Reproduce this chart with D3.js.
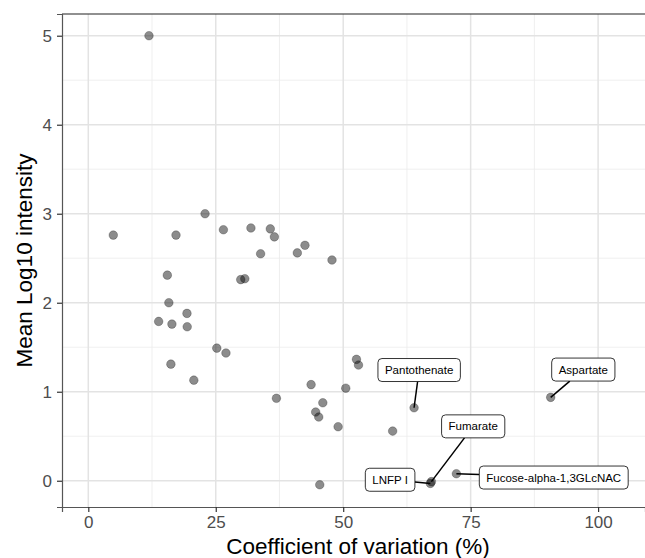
<!DOCTYPE html>
<html>
<head>
<meta charset="utf-8">
<script src="https://cdn.jsdelivr.net/npm/d3@7"></script>
<style>
  body { margin: 0; background: #fff; }
  svg { font-family: "Liberation Sans", Arial, sans-serif; }
</style>
</head>
<body>
<div id="chart"></div>
<script>
// coefficient of variation (%) and mean log10 intensity per metabolite
const cv = [11.9, 4.9, 22.9, 17.2, 15.5, 15.8, 26.5, 31.9, 35.7, 36.5,
  33.8, 41.0, 42.5, 47.8, 29.9, 30.7, 19.35, 13.8, 16.4, 19.4,
  25.2, 27.0, 16.2, 20.7, 52.6, 53.0, 43.7, 50.5, 46.0, 44.6,
  45.2, 49.0, 59.7, 45.4, 36.9, 63.9, 67.1, 67.3, 72.2, 90.7];
const meanLog = [5.0, 2.76, 3.0, 2.76, 2.31, 2.0, 2.82, 2.84, 2.83, 2.74,
  2.55, 2.56, 2.645, 2.48, 2.26, 2.27, 1.88, 1.79, 1.76, 1.73,
  1.49, 1.435, 1.31, 1.13, 1.364, 1.30, 1.08, 1.04, 0.876, 0.772,
  0.716, 0.607, 0.558, -0.045, 0.926, 0.82, -0.03, -0.01, 0.079, 0.937];

// labelled points: index into the arrays above, and label position (data units)
const labelNames = ["Pantothenate", "Aspartate", "Fumarate", "LNFP I", "Fucose-alpha-1,3GLcNAC"];
const labelIndex = [35, 39, 37, 36, 38];
const labelX = [64.9, 97.1, 75.5, 59.2, 91.3];
const labelY = [1.244, 1.249, 0.611, 0.011, 0.036];

const xTicks = [0, 25, 50, 75, 100];
const yTicks = [0, 1, 2, 3, 4, 5];

const width = 645, height = 558;
const margin = { top: 14, right: 0, bottom: 51, left: 62 };

const svg = d3.select("#chart").append("svg")
  .attr("width", width)
  .attr("height", height);

const x = d3.scaleLinear()
  .domain([-5.16, 109.2])
  .range([margin.left, width - margin.right]);

const y = d3.scaleLinear()
  .domain([-0.295, 5.244])
  .range([height - margin.bottom, margin.top]);

// grid
const grid = svg.append("g");
const xMinor = [12.5, 37.5, 62.5, 87.5];
const yMinor = [0.5, 1.5, 2.5, 3.5, 4.5];
grid.selectAll(".xminor").data(xMinor).join("line")
  .attr("x1", d => x(d)).attr("x2", d => x(d))
  .attr("y1", margin.top).attr("y2", height - margin.bottom)
  .attr("stroke", "#ebebeb").attr("stroke-width", 0.8);
grid.selectAll(".yminor").data(yMinor).join("line")
  .attr("y1", d => y(d)).attr("y2", d => y(d))
  .attr("x1", margin.left).attr("x2", width - margin.right)
  .attr("stroke", "#ebebeb").attr("stroke-width", 0.8);
grid.selectAll(".xmajor").data(xTicks).join("line")
  .attr("x1", d => x(d)).attr("x2", d => x(d))
  .attr("y1", margin.top).attr("y2", height - margin.bottom)
  .attr("stroke", "#e3e3e3").attr("stroke-width", 1.5);
grid.selectAll(".ymajor").data(yTicks).join("line")
  .attr("y1", d => y(d)).attr("y2", d => y(d))
  .attr("x1", margin.left).attr("x2", width - margin.right)
  .attr("stroke", "#e3e3e3").attr("stroke-width", 1.5);

// top border
svg.append("line")
  .attr("x1", margin.left).attr("x2", width)
  .attr("y1", margin.top).attr("y2", margin.top)
  .attr("stroke", "#222").attr("stroke-width", 1.2);

// axes
function styleAxis(g) {
  g.attr("font-family", null);
  g.select(".domain").attr("stroke", "#555").attr("stroke-width", 1.2);
  g.selectAll(".tick line").attr("stroke", "#333").attr("stroke-width", 1.2);
  g.selectAll(".tick text").attr("fill", "#4d4d4d").style("font-size", "17px");
}
function xAxis(g) {
  g.attr("transform", `translate(0,${height - margin.bottom})`)
    .call(d3.axisBottom(x).tickValues(xTicks).tickFormat(d3.format("d")).tickSize(5).tickPadding(4));
  styleAxis(g);
}
function yAxis(g) {
  g.attr("transform", `translate(${margin.left},0)`)
    .call(d3.axisLeft(y).tickValues(yTicks).tickFormat(d3.format("d")).tickSize(5).tickPadding(5));
  styleAxis(g);
}
svg.append("g").call(xAxis);
svg.append("g").call(yAxis);

// axis titles
svg.append("text")
  .attr("x", 358)
  .attr("y", 554)
  .attr("text-anchor", "middle")
  .attr("font-size", "22.5px")
  .text("Coefficient of variation (%)");
svg.append("text")
  .attr("transform", `translate(32,${(margin.top + height - margin.bottom) / 2}) rotate(-90)`)
  .attr("text-anchor", "middle")
  .attr("font-size", "22.5px")
  .text("Mean Log10 intensity");

// points
const pts = cv.map((d, i) => ({ cv: d, m: meanLog[i] }));
svg.append("g").selectAll("circle").data(pts).join("circle")
  .attr("cx", d => x(d.cv))
  .attr("cy", d => y(d.m))
  .attr("r", 4.3)
  .attr("fill", "#000").attr("fill-opacity", 0.45)
  .attr("stroke", "#000").attr("stroke-opacity", 0.3).attr("stroke-width", 0.8);

// labels with leader lines (point -> box centre, clipped at box edge)
const labels = labelNames.map((n, i) => ({
  name: n, px: cv[labelIndex[i]], py: meanLog[labelIndex[i]], lx: labelX[i], ly: labelY[i]
}));
const lg = svg.append("g");
labels.forEach(l => {
  const g = lg.append("g");
  const t = g.append("text")
    .attr("x", x(l.lx)).attr("y", y(l.ly))
    .attr("text-anchor", "middle")
    .attr("dominant-baseline", "central")
    .attr("font-size", "11.5px")
    .text(l.name);
  const bb = t.node().getBBox();
  const bw = bb.width + 14, bh = 23;
  const bx = x(l.lx) - bw / 2, by = y(l.ly) - bh / 2;
  const p0 = [x(l.px), y(l.py)], c = [x(l.lx), y(l.ly)];
  const dx = c[0] - p0[0], dy = c[1] - p0[1];
  // fraction along segment where it leaves the box
  const tx = dx === 0 ? Infinity : (bw / 2) / Math.abs(dx);
  const ty = dy === 0 ? Infinity : (bh / 2) / Math.abs(dy);
  const f = 1 - Math.min(tx, ty, 1);
  const ex = p0[0] + dx * f, ey = p0[1] + dy * f;
  if (Math.hypot(ex - p0[0], ey - p0[1]) > 6) {
    g.insert("line", "text")
      .attr("x1", p0[0]).attr("y1", p0[1])
      .attr("x2", ex).attr("y2", ey)
      .attr("stroke", "#000").attr("stroke-width", 1.5);
  }
  g.insert("rect", "text")
    .attr("x", bx).attr("y", by).attr("width", bw).attr("height", bh)
    .attr("rx", 4).attr("ry", 4)
    .attr("fill", "#fff").attr("stroke", "#000").attr("stroke-width", 0.8);
});
</script>
</body>
</html>
